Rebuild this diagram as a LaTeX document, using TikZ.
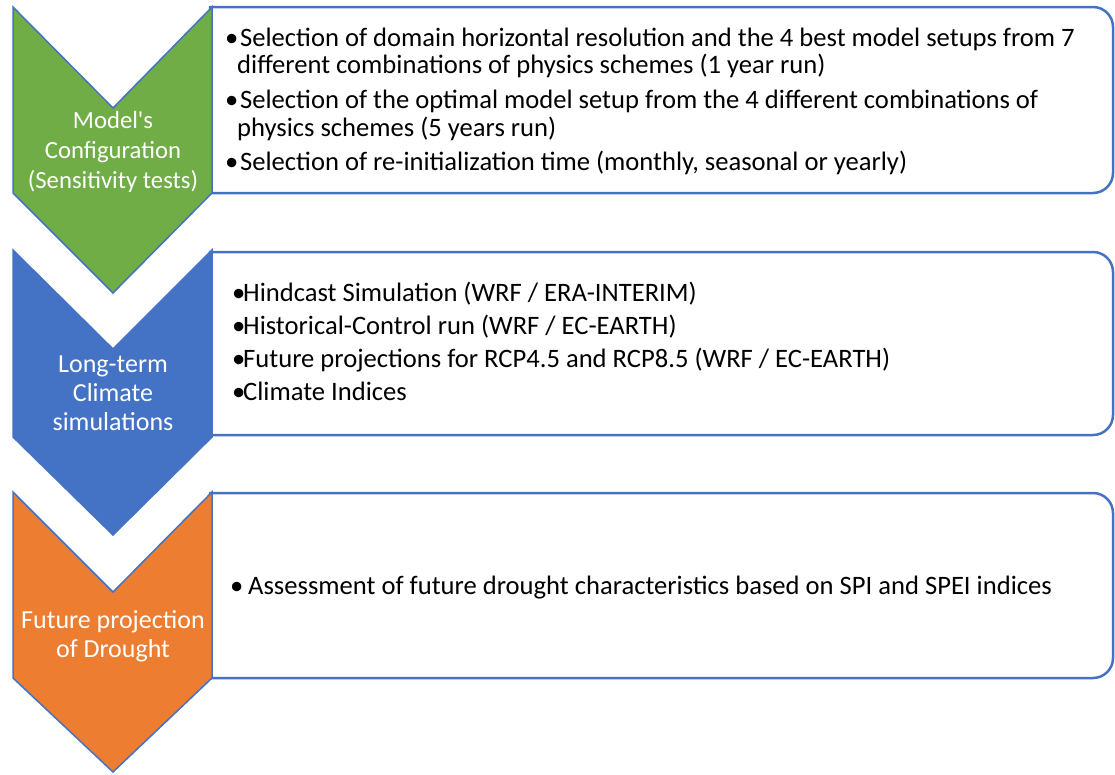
\documentclass[tikz,border=0pt]{standalone}
\usepackage{fontspec}
\setmainfont{Carlito}[Ligatures=TeXOff]
\definecolor{cgreen}{HTML}{70AD47}
\definecolor{cblue}{HTML}{4472C4}
\definecolor{corange}{HTML}{ED7D31}
\newcommand{\rbox}[2]{%
  \draw[boxline] (600,#1) [rounded corners=20pt] -- (1113,#1) -- (1113,#2) -- (600,#2) [sharp corners] -- (210,#2) -- (210,#1) -- cycle;}
\begin{document}
\begin{tikzpicture}[x=1pt,y=-1pt,
  chev/.style={draw=cblue,line width=1.5pt,line join=miter},
  boxline/.style={draw=cblue,line width=2.5pt},
  chevtext/.style={text=white,anchor=base,inner sep=0pt,font=\fontsize{26}{30}\selectfont},
  itemtext/.style={anchor=base west,inner sep=0pt,font=\fontsize{26.6}{30}\selectfont}]
\useasboundingbox (0,0) rectangle (1115,774);

% boxes
\rbox{7}{193}
\rbox{252}{435}
\rbox{493}{678}

% chevrons
\draw[chev,fill=cgreen] (13,7) -- (113,108) -- (212,7) -- (212,193) -- (113,293) -- (13,193) -- cycle;
\draw[chev,fill=cblue] (13,250) -- (113,349) -- (212,250) -- (212,437) -- (113,535) -- (13,437) -- cycle;
\draw[chev,fill=corange] (13,492) -- (113,592) -- (212,492) -- (212,678) -- (113,772) -- (13,678) -- cycle;

% chevron labels
\node[chevtext,font=\fontsize{24.7}{30}\selectfont] (c1a) at (113,128) {Model's};
\node[chevtext,font=\fontsize{24.7}{30}\selectfont] (c1b) at (113,158) {Configuration};
\node[chevtext,font=\fontsize{24.7}{30}\selectfont] (c1c) at (113,188) {(Sensitivity tests)};
\node[chevtext] (c2a) at (113,372) {Long-term};
\node[chevtext] (c2b) at (113,401) {Climate};
\node[chevtext] (c2c) at (113,430) {simulations};
\node[chevtext] (c3a) at (113,628) {Future projection};
\node[chevtext] (c3b) at (113,657) {of Drought};

% box 1 text
\node[itemtext] (b1a) at (225,46) {\makebox[15pt][l]{•}Selection of domain horizontal resolution and the 4 best model setups from 7};
\node[itemtext] (b1b) at (237,73) {different combinations of physics schemes (1 year run)};
\node[itemtext] (b1c) at (225,108) {\makebox[15pt][l]{•}Selection of the optimal model setup from the 4 different combinations of};
\node[itemtext] (b1d) at (237,136) {physics schemes (5 years run)};
\node[itemtext] (b1e) at (225,170) {\makebox[15pt][l]{•}Selection of re-initialization time (monthly, seasonal or yearly)};

% box 2 text
\node[itemtext] (b2a) at (232,301) {\makebox[11pt][l]{•}Hindcast Simulation (WRF / ERA-INTERIM)};
\node[itemtext] (b2b) at (232,334) {\makebox[11pt][l]{•}Historical-Control run (WRF / EC-EARTH)};
\node[itemtext] (b2c) at (232,367) {\makebox[11pt][l]{•}Future projections for RCP4.5 and RCP8.5 (WRF / EC-EARTH)};
\node[itemtext] (b2d) at (232,400) {\makebox[11pt][l]{•}Climate Indices};

% box 3 text
\node[itemtext] (b3a) at (230,594) {\makebox[18pt][l]{•}Assessment of future drought characteristics based on SPI and SPEI indices};
\end{tikzpicture}
\end{document}
